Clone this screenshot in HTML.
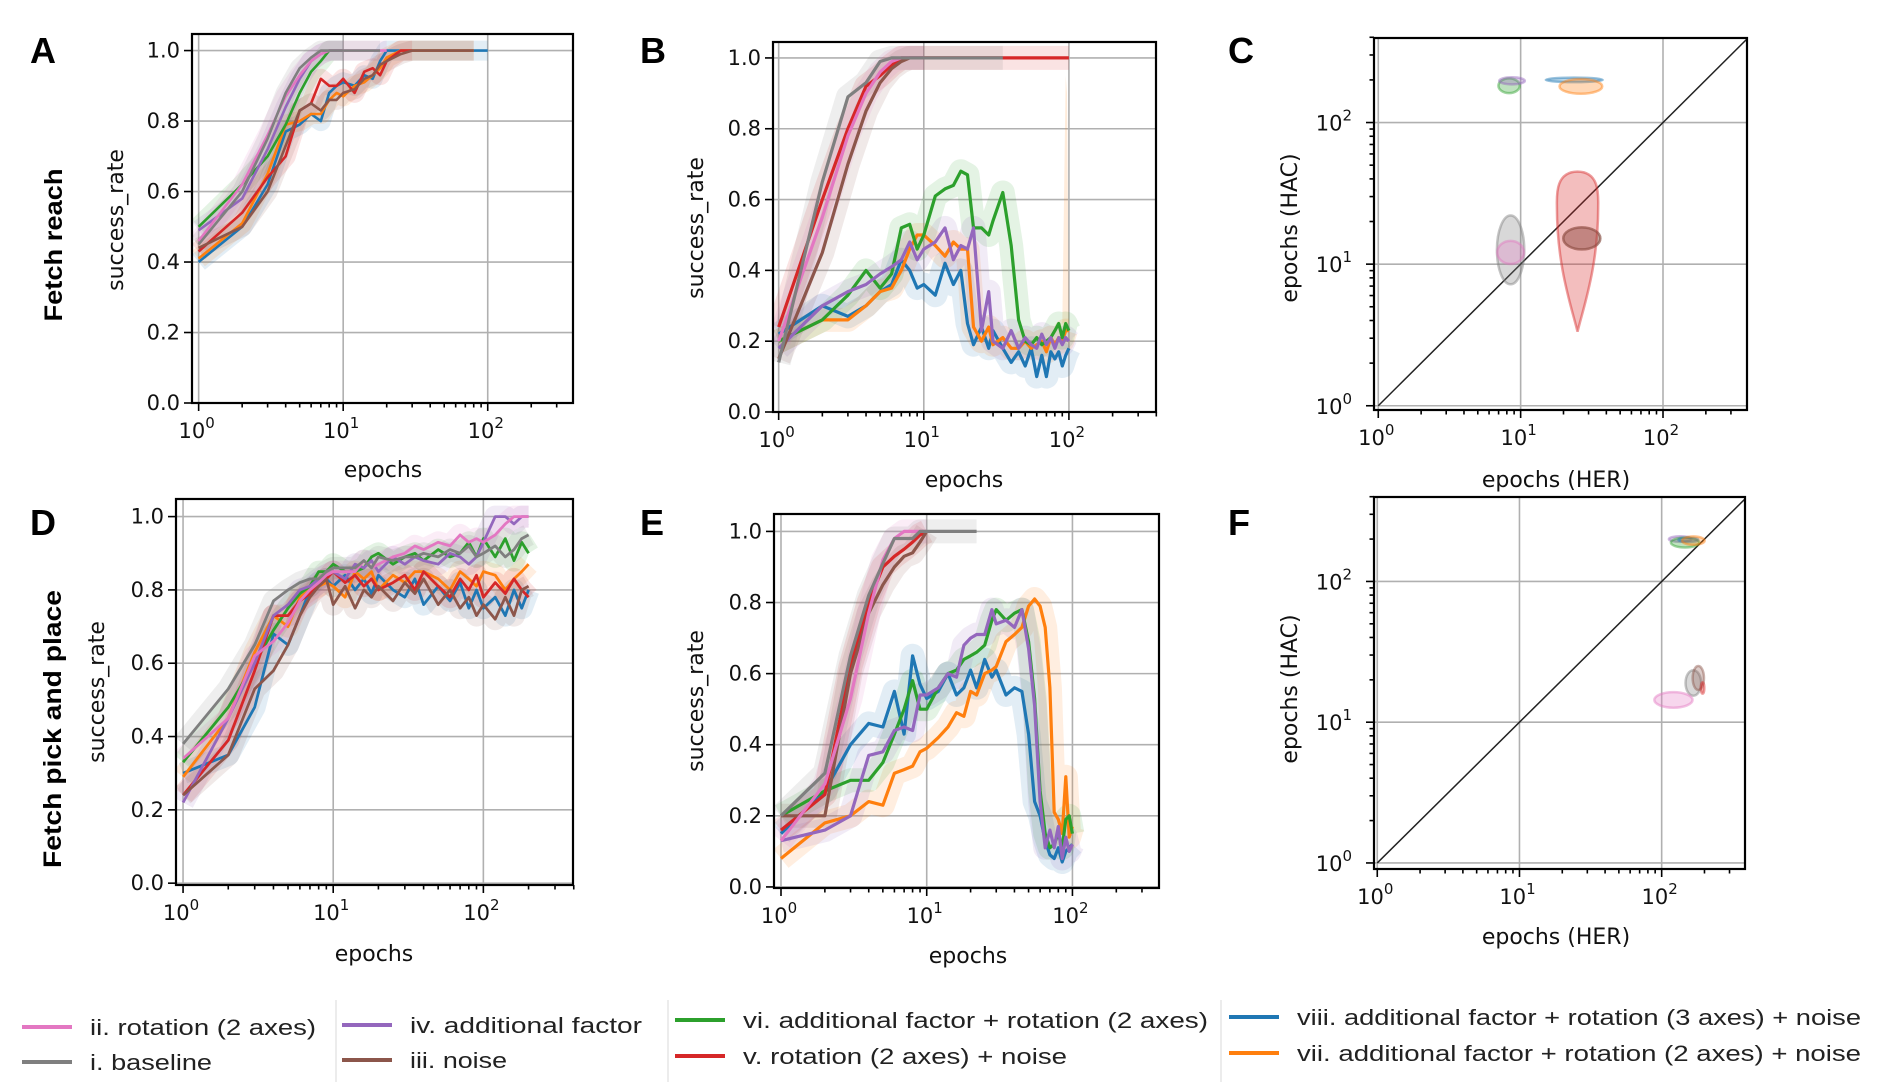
<!DOCTYPE html>
<html><head><meta charset="utf-8"><style>
html,body{margin:0;padding:0;background:#fff;}
svg{display:block;font-family:"DejaVu Sans","Liberation Sans",sans-serif;}
</style></head><body>
<svg id="fig" xmlns="http://www.w3.org/2000/svg" width="1880" height="1082" viewBox="0 0 1880 1082">
<rect width="1880" height="1082" fill="#fff"/>
<g font-family="Liberation Sans, sans-serif" font-weight="bold" font-size="36">
<text x="30" y="63">A</text>
<text x="640" y="63">B</text>
<text x="1228" y="63">C</text>
<text x="30" y="535">D</text>
<text x="640" y="535">E</text>
<text x="1228" y="535">F</text>
</g>
<g font-family="Liberation Sans, sans-serif" font-weight="bold" font-size="25">
<text transform="translate(62,245) rotate(-90)" text-anchor="middle" textLength="153" lengthAdjust="spacingAndGlyphs">Fetch reach</text>
<text transform="translate(61,729) rotate(-90)" text-anchor="middle" textLength="278" lengthAdjust="spacingAndGlyphs">Fetch pick and place</text>
</g>
<g id="panels"></g>
<g id="legend" font-family="Liberation Sans, sans-serif" font-size="22" fill="#222"></g>
</svg>
<script>
// ---------- data ----------
const seriesOrder = ['blue','orange','green','red','purple','brown','pink','gray'];
const colors = {blue:'#1f77b4',orange:'#ff7f0e',green:'#2ca02c',red:'#d62728',purple:'#9467bd',brown:'#8c564b',pink:'#e377c2',gray:'#7f7f7f'};
const yTicksLin = [0,0.2,0.4,0.6,0.8,1.0];
const yTickLabelsLin = ['0.0','0.2','0.4','0.6','0.8','1.0'];
const logTicks = [1,10,100];
const logTickExp = ['0','1','2'];

// Panel A
const aEpochs = [1,2,3,4,5,6,7,8,9,10,12,14,16,18,20,25,30,40,60,80,100];
const aGray   = [.45,.60,.75,.88,.95,.98,1,1,1,1,1,1,1,1,null,null,null,null,null,null,null];
const aPink   = [.46,.62,.76,.87,.93,.97,.99,1,1,1,1,1,1,1,1,null,null,null,null,null,null];
const aGreen  = [.50,.62,.70,.79,.88,.94,.97,1,1,1,null,null,null,null,null,null,null,null,null,null,null];
const aPurple = [.49,.58,.72,.84,.92,.97,.99,1,1,1,null,null,null,null,null,null,null,null,null,null,null];
const aRed    = [.43,.54,.64,.70,.83,.85,.92,.90,.90,.92,.88,.94,.95,.93,.97,1,1,null,null,null,null];
const aBlue   = [.40,.50,.62,.77,.79,.82,.80,.88,.90,.91,.90,.93,.92,.97,1,1,1,1,1,1,1];
const aOrange = [.41,.51,.65,.79,.80,.82,.82,.86,.88,.87,.90,.91,.93,.95,.98,1,1,1,1,1,null];
const aBrown  = [.44,.50,.60,.73,.83,.85,.83,.86,.86,.88,.89,.92,.93,.96,.97,.99,1,1,1,1,null];

// Panel B
const bEpochs = [1,2,3,4,5,6,7,8,9,10,12,14,16,18,20,22,25,28,30,35,40,45,50,55,60,65,70,75,80,85,90,95,100];
const bGray   = [.14,.65,.89,.93,.99,1,1,1,1,1,1,1,1,1,1,1,1,1,1,1,null,null,null,null,null,null,null,null,null,null,null,null,null];
const bRed    = [.24,.60,.80,.92,.95,.98,1,1,1,1,1,1,1,1,1,1,1,1,1,1,1,1,1,1,1,1,1,1,1,1,1,1,1];
const bPink   = [.20,.55,.78,.90,.96,.99,1,1,1,1,null,null,null,null,null,null,null,null,null,null,null,null,null,null,null,null,null,null,null,null,null,null,null];
const bBrown  = [.15,.45,.70,.85,.93,.97,.99,1,1,1,null,null,null,null,null,null,null,null,null,null,null,null,null,null,null,null,null,null,null,null,null,null,null];
const bGreen  = [.20,.26,.33,.40,.35,.39,.52,.53,.46,.50,.61,.63,.64,.68,.67,.52,.52,.50,.54,.62,.47,.26,.20,.19,.21,.19,.20,.21,.23,.25,.21,.25,.23];
const bOrange = [.20,.26,.26,.30,.34,.35,.40,.46,.50,.50,.47,.44,.48,.46,.46,.24,.20,.24,.19,.21,.18,.18,.20,.18,.19,.20,.17,.21,.19,.21,.20,.23,.23];
const bPurple = [.18,.30,.34,.36,.39,.41,.43,.48,.43,.46,.48,.52,.43,.47,.46,.52,.23,.34,.20,.18,.23,.18,.21,.19,.18,.22,.19,.21,.18,.21,.19,.21,.20];
const bBlue   = [.22,.30,.27,.30,.34,.36,.43,.40,.35,.36,.33,.42,.36,.40,.25,.19,.24,.18,.23,.18,.14,.17,.13,.18,.10,.16,.10,.17,.15,.17,.13,.16,.18];
const bOrangeSpikeEpochs = [90,95,97,100];
const bOrangeSpike = [.25,.95,.9,.25];

// Panel D
const dEpochs = [1,2,3,4,5,6,7,8,9,10,12,14,16,18,20,25,30,35,40,50,60,70,80,90,100,120,140,160,180,200];
const dGray   = [.38,.53,.65,.77,.80,.82,.83,.83,.85,.86,.86,.86,.88,.86,.89,.88,.89,.89,.90,.89,.91,.90,.92,.89,.90,.92,.89,.91,.94,.95];
const dPink   = [.34,.45,.62,.66,.71,.77,.80,.82,.84,.85,.85,.85,.88,.86,.87,.89,.90,.92,.91,.93,.92,.95,.93,.94,.93,.95,.98,1,1,1];
const dGreen  = [.33,.48,.60,.69,.75,.79,.81,.85,.85,.87,.85,.85,.86,.89,.90,.87,.89,.90,.88,.91,.89,.90,.93,.89,.94,.89,.94,.88,.93,.90];
const dPurple = [.22,.45,.60,.73,.76,.80,.81,.83,.84,.85,.83,.87,.86,.88,.85,.89,.87,.89,.88,.87,.90,.89,.87,.89,.93,1,1,.98,1,1];
const dOrange = [.29,.45,.63,.73,.70,.78,.80,.81,.82,.81,.78,.85,.83,.85,.80,.84,.82,.85,.85,.83,.80,.85,.83,.81,.85,.84,.80,.83,.85,.87];
const dRed    = [.24,.39,.58,.73,.73,.77,.79,.81,.83,.85,.82,.84,.81,.83,.80,.82,.84,.80,.85,.81,.78,.83,.80,.84,.78,.82,.79,.83,.80,.78];
const dBlue   = [.30,.35,.48,.68,.65,.73,.80,.82,.83,.81,.84,.80,.83,.79,.84,.80,.78,.83,.76,.81,.77,.82,.75,.80,.75,.78,.73,.80,.75,.80];
const dBrown  = [.24,.35,.53,.58,.65,.73,.78,.81,.83,.76,.81,.75,.80,.78,.81,.77,.82,.79,.83,.76,.80,.75,.78,.73,.76,.72,.78,.73,.80,.81];

// Panel E
const eEpochs = [1,2,3,4,5,6,7,8,9,10,12,14,16,18,20,22,25,28,30,35,40,45,50,55,60,65,70,75,80,85,90,95,100];
const eGray   = [.20,.32,.65,.82,.91,.98,.98,.98,1,1,1,1,1,1,1,1,null,null,null,null,null,null,null,null,null,null,null,null,null,null,null,null,null];
const ePink   = [.13,.29,.53,.77,.92,.98,1,1,1,1,null,null,null,null,null,null,null,null,null,null,null,null,null,null,null,null,null,null,null,null,null,null,null];
const eRed    = [.16,.26,.62,.80,.90,.93,.95,.97,.99,1,null,null,null,null,null,null,null,null,null,null,null,null,null,null,null,null,null,null,null,null,null,null,null];
const eBrown  = [.20,.20,.60,.77,.85,.90,.93,.94,.97,1,null,null,null,null,null,null,null,null,null,null,null,null,null,null,null,null,null,null,null,null,null,null,null];
const eBlue   = [.15,.27,.40,.46,.45,.55,.43,.65,.57,.53,.55,.60,.54,.56,.61,.56,.64,.59,.61,.54,.56,.55,.43,.24,.20,.13,.09,.08,.11,.07,.10,.11,.12];
const eGreen  = [.20,.27,.30,.30,.35,.43,.50,.58,.50,.50,.56,.60,.61,.64,.65,.66,.68,.75,.78,.75,.77,.78,.69,.53,.27,.15,.11,.12,.15,.11,.19,.20,.15];
const ePurple = [.13,.16,.20,.37,.38,.44,.45,.44,.54,.54,.56,.60,.59,.68,.70,.71,.71,.78,.74,.75,.73,.78,.67,.51,.24,.11,.16,.11,.17,.08,.14,.10,.12];
const eOrange = [.08,.18,.20,.24,.23,.32,.33,.34,.38,.39,.42,.45,.49,.48,.55,.54,.60,.61,.62,.69,.71,.73,.79,.81,.79,.73,.56,.21,.19,.15,.31,.14,.17];

// Panel C / F ellipses
const cEllipseKeys = ['gray','pink','green','purple','blue','orange','brown'];
const cCentersHER = [8.5,8.5,8.3,8.7,23.8,26.5,26.9];
const cCentersHAC = [12.6,12.1,182,197,200,180,15.2];
const cRadiiX = [.096,.094,.075,.09,.2,.15,.13];
const cRadiiY = [.243,.082,.052,.025,.016,.052,.078];
const cRedDropHER = 25.1, cRedDropTop = 45, cRedDropBottom = 3.33, cRedDropWide = 25.5, cRedDropHalf = .145;

const fEllipseKeys = ['purple','green','blue','orange','gray','brown','red','pink'];
const fCentersHER = [135,146,154,167,167,181,194,121];
const fCentersHAC = [200,189,198,195,19,20.6,17.5,14.4];
const fRadiiX = [.08,.1,.07,.08,.055,.04,.012,.135];
const fRadiiY = [.02,.035,.015,.03,.09,.085,.04,.055];

// legend
const legendLabels = ['ii. rotation (2 axes)','i. baseline','iv. additional factor','iii. noise','vi. additional factor + rotation (2 axes)','v. rotation (2 axes) + noise','viii. additional factor + rotation (3 axes) + noise','vii. additional factor + rotation (2 axes) + noise'];
const legendKeys = ['pink','gray','purple','brown','green','red','blue','orange'];

// ---------- drawing ----------
const NS='http://www.w3.org/2000/svg';
function el(tag,attrs,parent){const e=document.createElementNS(NS,tag);for(const k in attrs)e.setAttribute(k,attrs[k]);if(parent)parent.appendChild(e);return e;}
const root=document.getElementById('panels');
let clipId=0;

function makePanel(name,box,xr,yr,ylog){
  const g=el('g',{},root);
  
  
  const sx=v=>box.l+(Math.log10(v)-xr[0])/(xr[1]-xr[0])*(box.r-box.l);
  const sy=ylog?(v=>box.b-(Math.log10(v)-yr[0])/(yr[1]-yr[0])*(box.b-box.t)):(v=>box.b-(v-yr[0])/(yr[1]-yr[0])*(box.b-box.t));
  const grid=el('g',{stroke:'#b0b0b0','stroke-width':1.6},g);
  
  
  logTicks.forEach(t=>el('line',{x1:sx(t),x2:sx(t),y1:box.t,y2:box.b},grid));
  const yt=ylog?logTicks:yTicksLin;
  yt.forEach(t=>el('line',{x1:box.l,x2:box.r,y1:sy(t),y2:sy(t)},grid));
  const id='clip'+(clipId++);
  const cp=el('clipPath',{id:id},g);el('rect',{x:box.l,y:box.t,width:box.r-box.l,height:box.b-box.t},cp);
  const plot=el('g',{'clip-path':'url(#'+id+')'},g);
  
  
  const fr=el('rect',{x:box.l,y:box.t,width:box.r-box.l,height:box.b-box.t,fill:'none',stroke:'#000','stroke-width':2.2},g);
  
  
  const xa=el('g',{stroke:'#000','stroke-width':1.6},g);
  
  
  for(let d=0;d<3;d++){for(let m=1;m<10;m++){const v=m*Math.pow(10,d);const x=sx(v);if(x<box.l-1||x>box.r+1)continue;el('line',{x1:x,x2:x,y1:box.b,y2:box.b+(m==1?8:4.5)},xa);}}
  const xl=el('g',{'font-size':21,fill:'#111','text-anchor':'middle'},g);
  
  
  logTicks.forEach((t,i)=>{const tx=el('text',{x:sx(t)-2,y:box.b+35},xl);tx.textContent='10';const s=el('tspan',{dy:-10,'font-size':15},tx);s.textContent=logTickExp[i];});
  const ya=el('g',{stroke:'#000','stroke-width':1.6},g);
  
  
  const yl=el('g',{'font-size':21,fill:'#111','text-anchor':'end'},g);
  
  
  if(ylog){
    for(let d=0;d<3;d++){for(let m=1;m<10;m++){const v=m*Math.pow(10,d);const y=sy(v);if(y<box.t-1||y>box.b+1)continue;el('line',{x1:box.l,x2:box.l-(m==1?8:4.5),y1:y,y2:y},ya);}}
    logTicks.forEach((t,i)=>{const tx=el('text',{x:box.l-22,y:sy(t)+8},yl);tx.textContent='10';const s=el('tspan',{dy:-10,'font-size':15},tx);s.textContent=logTickExp[i];});
  } else {
    yTicksLin.forEach((t,i)=>{el('line',{x1:box.l,x2:box.l-8,y1:sy(t),y2:sy(t)},ya);const tx=el('text',{x:box.l-12,y:sy(t)+7},yl);tx.textContent=yTickLabelsLin[i];});
  }
  return {g,plot,sx,sy,box};
}

function pathFrom(xs,ys,sx,sy){let d='',pen=false;for(let i=0;i<xs.length;i++){if(ys[i]==null){pen=false;continue;}d+=(pen?'L':'M')+sx(xs[i]).toFixed(1)+','+sy(ys[i]).toFixed(1);pen=true;}return d;}

function drawLines(P,xs,map,lw,band,prefix){
  seriesOrder.forEach(k=>{
    if(!map[k])return;
    const d=pathFrom(xs,map[k],P.sx,P.sy);
    const b=el('path',{d:d,fill:'none',stroke:colors[k],'stroke-opacity':0.13,'stroke-width':band,'stroke-linejoin':'round','stroke-linecap':'butt'},P.plot);
    
    
  });
  seriesOrder.forEach(k=>{
    if(!map[k])return;
    const d=pathFrom(xs,map[k],P.sx,P.sy);
    const l=el('path',{d:d,fill:'none',stroke:colors[k],'stroke-width':lw,'stroke-linejoin':'round'},P.plot);
    
    
  });
}

function label(P,xl,yl,xtxt,ytxt,xlx,xly,ylx,yly){
  const a=el('text',{x:xlx,y:xly,'font-size':22,'text-anchor':'middle',fill:'#111'},P.g);a.textContent=xtxt;
  
  
  const b=el('text',{transform:'translate('+ylx+','+yly+') rotate(-90)','font-size':22,'text-anchor':'middle',fill:'#111'},P.g);b.textContent=ytxt;
  
  
}

const PA=makePanel('panel-a',{l:192,r:573,t:34,b:403},[-0.046,2.59],[0,1.047],false);
drawLines(PA,aEpochs,{blue:aBlue,orange:aOrange,green:aGreen,red:aRed,purple:aPurple,brown:aBrown,pink:aPink,gray:aGray},2.6,20,'a');
label(PA,'a-x-axis-title','a-y-axis-title','epochs','success_rate',383,477,123,220);

const PB=makePanel('panel-b',{l:773,r:1156,t:42,b:412},[-0.039,2.6],[0,1.045],false);
(function(){const sp=el('path',{d:pathFrom(bOrangeSpikeEpochs,bOrangeSpike,PB.sx,PB.sy)+'Z',fill:colors.orange,'fill-opacity':0.15,stroke:'none'},PB.plot);

})();
drawLines(PB,bEpochs,{blue:bBlue,orange:bOrange,green:bGreen,red:bRed,purple:bPurple,brown:bBrown,pink:bPink,gray:bGray},3.2,24,'b');
label(PB,'b-x-axis-title','b-y-axis-title','epochs','success_rate',964,487,703,228);

const PC=makePanel('panel-c',{l:1374,r:1747,t:38,b:410},[-0.03,2.59],[-0.03,2.597],true);
label(PC,'c-x-axis-title','c-y-axis-title','epochs (HER)','epochs (HAC)',1556,487,1297,228);

const PD=makePanel('panel-d',{l:176,r:573,t:499,b:885},[-0.047,2.597],[-0.005,1.048],false);
drawLines(PD,dEpochs,{blue:dBlue,orange:dOrange,green:dGreen,red:dRed,purple:dPurple,brown:dBrown,pink:dPink,gray:dGray},2.8,22,'d');
label(PD,'d-x-axis-title','d-y-axis-title','epochs','success_rate',374,961,104,692);

const PE=makePanel('panel-e',{l:774,r:1159,t:514,b:888},[-0.048,2.594],[-0.003,1.049],false);
drawLines(PE,eEpochs,{blue:eBlue,orange:eOrange,green:eGreen,red:eRed,purple:ePurple,brown:eBrown,pink:ePink,gray:eGray},3.2,24,'e');
label(PE,'e-x-axis-title','e-y-axis-title','epochs','success_rate',968,963,703,701);

const PF=makePanel('panel-f',{l:1374,r:1745,t:497,b:869},[-0.023,2.586],[-0.043,2.6],true);
label(PF,'f-x-axis-title','f-y-axis-title','epochs (HER)','epochs (HAC)',1556,944,1297,689);

function diag(P,n){const d=el('line',{x1:P.sx(1),y1:P.sy(1),x2:P.sx(400),y2:P.sy(400),stroke:'#222','stroke-width':1.5},P.plot);}
diag(PC,'c-identity-line');diag(PF,'f-identity-line');

function ellipses(P,keys,cx,cy,rx,ry,prefix){
  const pxDecX=(P.box.r-P.box.l)/2.62, pxDecY=(P.box.b-P.box.t)/2.63;
  keys.forEach((k,i)=>{
    const e=el('ellipse',{cx:P.sx(cx[i]),cy:P.sy(cy[i]),rx:rx[i]*pxDecX,ry:ry[i]*pxDecY,fill:colors[k],'fill-opacity':0.3,stroke:colors[k],'stroke-opacity':0.45,'stroke-width':2.5},P.plot);
    
    
  });
}
ellipses(PC,cEllipseKeys,cCentersHER,cCentersHAC,cRadiiX,cRadiiY,'c');
ellipses(PF,fEllipseKeys,fCentersHER,fCentersHAC,fRadiiX,fRadiiY,'f');
(function(){
  const P=PC,pxDec=(P.box.r-P.box.l)/2.62;
  const x=P.sx(cRedDropHER),yt=P.sy(cRedDropTop),yb=P.sy(cRedDropBottom),yw=P.sy(cRedDropWide),h=cRedDropHalf*pxDec;
  const d='M'+x+','+yt+' C'+(x+h*1.1)+','+yt+' '+(x+h)+','+(yw-10)+' '+(x+h)+','+yw+' C'+(x+h)+','+(yw+60)+' '+(x+6)+','+(yb-25)+' '+x+','+yb+' C'+(x-6)+','+(yb-25)+' '+(x-h)+','+(yw+60)+' '+(x-h)+','+yw+' C'+(x-h)+','+(yw-10)+' '+(x-h*1.1)+','+yt+' '+x+','+yt+'Z';
  const p=el('path',{d:d,fill:colors.red,'fill-opacity':0.3,stroke:colors.red,'stroke-opacity':0.45,'stroke-width':2.5},P.plot);
  
  
  const i=cEllipseKeys.indexOf('brown');
  const e=el('ellipse',{cx:P.sx(cCentersHER[i]),cy:P.sy(cCentersHAC[i]),rx:cRadiiX[i]*pxDec,ry:cRadiiY[i]*(P.box.b-P.box.t)/2.63,fill:colors.brown,'fill-opacity':0.3,stroke:colors.brown,'stroke-opacity':0.45,'stroke-width':2.5},P.plot);
  
  
})();

const lg=document.getElementById('legend');
const legPos=[[22,1027],[22,1062],[342,1025],[342,1060],[675,1020],[675,1056],[1229,1017],[1229,1053]];
const legLen=[226,122,232,97,465,324,564,564];
legendLabels.forEach((t,i)=>{
  const [x,y]=legPos[i];
  const it=el('g',{},lg);
  
  
  el('line',{x1:x,x2:x+50,y1:y,y2:y,stroke:colors[legendKeys[i]],'stroke-width':4},it);
  const tx=el('text',{x:x+68,y:y+8,textLength:legLen[i],lengthAdjust:'spacingAndGlyphs'},it);tx.textContent=t;
});
[336,668,1221].forEach((x,i)=>{const s=el('line',{x1:x,x2:x,y1:1000,y2:1082,stroke:'#e6e6e6','stroke-width':1.5},lg);});
</script>
</body></html>
